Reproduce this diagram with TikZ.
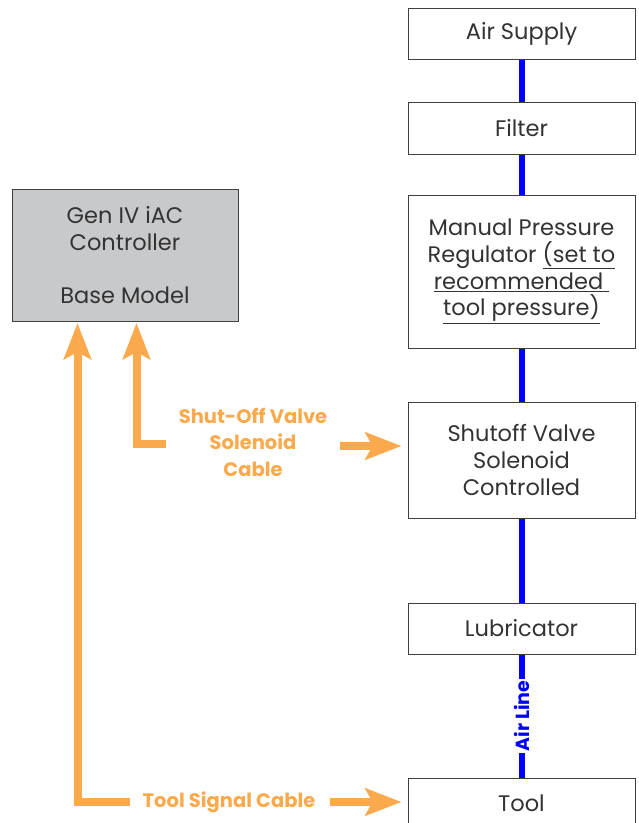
\documentclass[tikz,border=0pt]{standalone}
\usepackage{fontspec}
\setmainfont{Poppins}
\usetikzlibrary{arrows.meta,calc}
\definecolor{orng}{HTML}{FAAA4C}
\definecolor{ctrlgray}{HTML}{C8C9CB}
\definecolor{txtgray}{HTML}{333333}
\definecolor{airblue}{HTML}{0000FF}
\tikzset{
  box/.style={draw=black!75, line width=1pt, fill=white, minimum width=227pt,
    text=txtgray, align=center, font=\fontsize{22.5}{26.7}\selectfont, inner sep=0pt},
  airline/.style={airblue, line width=6pt},
  cable/.style={orng, line width=8pt},
  cablearrow/.style={orng, line width=8pt, -{Stealth[length=36pt,width=27pt,inset=7pt]}},
  cablelabel/.style={text=orng, align=center, font=\fontsize{19.5}{26.5}\selectfont\bfseries, inner sep=0pt}
}
\begin{document}
\begin{tikzpicture}[x=1pt,y=-1pt]
\useasboundingbox (0,0) rectangle (639,823);
\fill[white] (0,0) rectangle (639,823);
\begin{scope}
\clip (0,0) rectangle (639,823);
% air line nodes
\node[box, minimum height=51pt] (air) at (521.5,33.5) {\raisebox{-3pt}{Air Supply}};
\node[box, minimum height=52pt] (filter) at (521.5,128) {Filter};
\node[box, minimum height=153pt] (reg) at (521.5,271.5) {Manual Pressure\\Regulator \underline{(set to}\\\underline{recommended\ }\\\underline{tool pressure)}};
\node[box, minimum height=116pt] (valve) at (521.5,460) {Shutoff Valve\\Solenoid\\Controlled};
\node[box, minimum height=51pt] (lub) at (521.5,628.5) {Lubricator};
\node[box, minimum height=51pt] (tool) at (521.5,803.5) {Tool};
\node[box, fill=ctrlgray, minimum width=226pt, minimum height=132pt] (ctrl) at (125,255) {Gen IV iAC\\Controller\\[26.7pt]Base Model};
% air connections
\draw[airline] (air.south) -- (filter.north);
\draw[airline] (filter.south) -- (reg.north);
\draw[airline] (reg.south) -- (valve.north);
\draw[airline] (valve.south) -- (lub.north);
\draw[airline] (lub.south) -- (tool.north);
\node[fill=white, rotate=90, text=airblue, font=\fontsize{19}{21}\selectfont\bfseries, inner sep=2pt] (airlbl) at ($(lub.south)!0.5!(tool.north)$) {Air Line};
% cables
\node[cablelabel] (tsc) at (229,802) {Tool Signal Cable};
\node[cablelabel] (sov) at (253,442) {Shut-Off Valve\\Solenoid\\Cable};
\coordinate (ctrlA) at ($(ctrl.south west)+(66,0)$);
\coordinate (ctrlB) at ($(ctrl.south west)+(125,0)$);
\coordinate (tA) at ($(tsc.west)+(-12,0)$);
\coordinate (tB) at ($(tsc.east)+(14,0)$);
\coordinate (sA) at ($(sov.west)+(-13,2)$);
\coordinate (sB) at ($(sov.east)+(13,4)$);
\coordinate (tC) at (tA -| ctrlA);
\coordinate (sC) at (sA -| ctrlB);
\draw[cable] (tA) -- (tC) -- ++(0,-20);
\draw[cablearrow] ($(tC)+(0,4)$) -- ($(ctrlA)+(0,1.5)$);
\draw[cablearrow, shorten >=6pt] (tB) -- (tB -| tool.west);
\draw[cable] (sA) -- (sC) -- ++(0,-20);
\draw[cablearrow] ($(sC)+(0,4)$) -- ($(ctrlB)+(0,1.5)$);
\draw[cablearrow, shorten >=6pt] (sB) -- (sB -| valve.west);
\end{scope}
\end{tikzpicture}
\end{document}
